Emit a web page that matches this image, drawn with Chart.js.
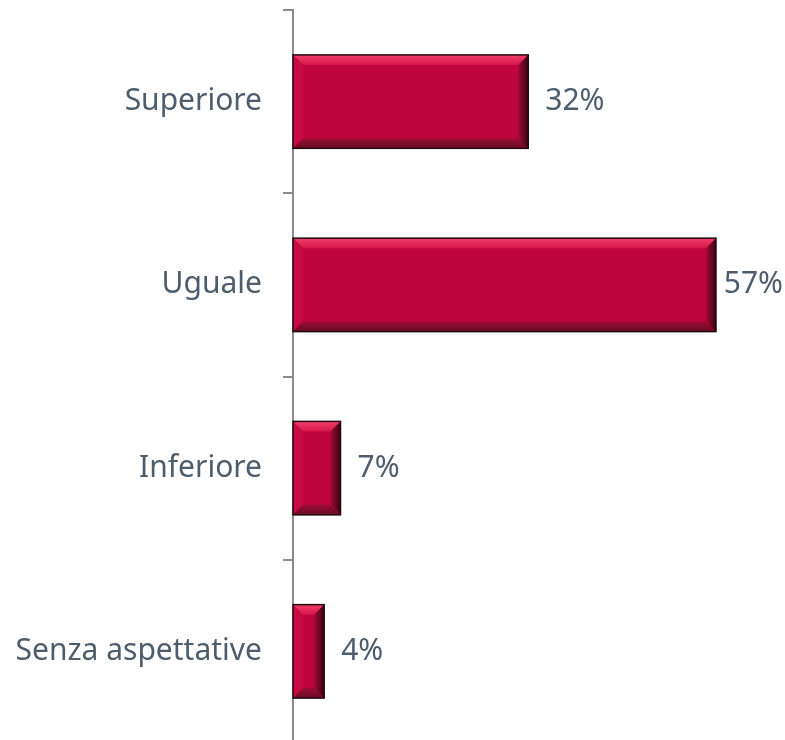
<!DOCTYPE html>
<html>
<head>
<meta charset="utf-8">
<script src="https://cdn.jsdelivr.net/npm/chart.js@4/dist/chart.umd.min.js"></script>
<style>
  html, body { margin: 0; padding: 0; background: #ffffff; overflow: hidden; }
  #wrap { position: relative; width: 785px; height: 743px; }
</style>
</head>
<body>
<div id="wrap"><canvas id="chart"></canvas></div>
<script>
// categories and values (percent)
const categories = ['Superiore', 'Uguale', 'Inferiore', 'Senza aspettative'];
const shares = [31.7, 57.0, 6.4, 4.2];
const shareLabels = ['32%', '57%', '7%', '4%'];

const textColor = '#4e5d6b';
const axisColor = '#8c8c8c';
const fontFamily = "'Noto Sans', 'Open Sans', sans-serif";
const fontSize = 30;

// draws the bevelled look on top of each bar
const bevelPlugin = {
    id: 'bevel',
    afterDatasetsDraw(chart) {
        const ctx = chart.ctx;
        const meta = chart.getDatasetMeta(0);
        meta.data.forEach(bar => {
            const p = bar.getProps(['x', 'y', 'base', 'height'], true);
            const l = p.base, r = p.x, t = p.y - p.height / 2, b = p.y + p.height / 2;
            const bv = Math.min(10, (r - l) / 2.5);
            ctx.save();
            // top edge
            let g = ctx.createLinearGradient(0, t, 0, t + bv);
            g.addColorStop(0, '#f0406c');
            g.addColorStop(1, '#d8164b');
            ctx.fillStyle = g;
            ctx.beginPath();
            ctx.moveTo(l, t); ctx.lineTo(r, t); ctx.lineTo(r - bv, t + bv); ctx.lineTo(l + bv, t + bv);
            ctx.closePath(); ctx.fill();
            // left edge
            ctx.fillStyle = '#c80a42';
            ctx.beginPath();
            ctx.moveTo(l, t); ctx.lineTo(l + bv, t + bv); ctx.lineTo(l + bv, b - bv); ctx.lineTo(l, b);
            ctx.closePath(); ctx.fill();
            // bottom edge
            g = ctx.createLinearGradient(0, b - bv, 0, b);
            g.addColorStop(0, '#9a0d33');
            g.addColorStop(1, '#6a0a22');
            ctx.fillStyle = g;
            ctx.beginPath();
            ctx.moveTo(l, b); ctx.lineTo(l + bv, b - bv); ctx.lineTo(r - bv, b - bv); ctx.lineTo(r, b);
            ctx.closePath(); ctx.fill();
            // right edge
            g = ctx.createLinearGradient(r - bv, 0, r, 0);
            g.addColorStop(0, '#a00a36');
            g.addColorStop(1, '#3a0412');
            ctx.fillStyle = g;
            ctx.beginPath();
            ctx.moveTo(r, t); ctx.lineTo(r, b); ctx.lineTo(r - bv, b - bv); ctx.lineTo(r - bv, t + bv);
            ctx.closePath(); ctx.fill();
            // outline
            ctx.strokeStyle = '#24080f';
            ctx.lineWidth = 1.5;
            ctx.strokeRect(l, t, r - l, b - t);
            ctx.restore();
        });
    }
};

// value labels to the right of each bar, kept inside the canvas
const valueLabelPlugin = {
    id: 'valueLabels',
    afterDatasetsDraw(chart) {
        const ctx = chart.ctx;
        const meta = chart.getDatasetMeta(0);
        ctx.save();
        ctx.font = fontSize + 'px ' + fontFamily;
        ctx.fillStyle = textColor;
        ctx.textBaseline = 'middle';
        ctx.textAlign = 'left';
        meta.data.forEach((bar, i) => {
            const txt = shareLabels[i];
            const w = ctx.measureText(txt).width;
            let x = bar.x + 17;
            if (x + w > chart.width - 2) x = chart.width - 2 - w;
            ctx.fillText(txt, x, bar.y);
        });
        ctx.restore();
    }
};

new Chart(document.getElementById('chart').getContext('2d'), {
    type: 'bar',
    data: {
        labels: categories,
        datasets: [{
            data: shares,
            backgroundColor: '#bf053d',
            borderWidth: 0,
            categoryPercentage: 1,
            barPercentage: 0.51
        }]
    },
    options: {
        indexAxis: 'y',
        responsive: true,
        maintainAspectRatio: false,
        animation: false,
        layout: { padding: { top: 10, right: 0, bottom: 0, left: 0 } },
        plugins: {
            legend: { display: false },
            tooltip: { enabled: false }
        },
        scales: {
            x: {
                display: false,
                min: 0,
                max: 66.3
            },
            y: {
                afterFit(scale) {
                    scale.width = 293;
                    scale.paddingTop = 0;
                    scale.paddingBottom = 0;
                },
                grid: {
                    offset: true,
                    drawOnChartArea: false,
                    drawTicks: true,
                    tickLength: 10,
                    color: axisColor,
                    lineWidth: 2
                },
                border: { display: true, color: axisColor, width: 2 },
                ticks: {
                    color: textColor,
                    padding: 21,
                    font: { family: fontFamily, size: fontSize }
                }
            }
        }
    },
    plugins: [bevelPlugin, valueLabelPlugin]
});
</script>
</body>
</html>
